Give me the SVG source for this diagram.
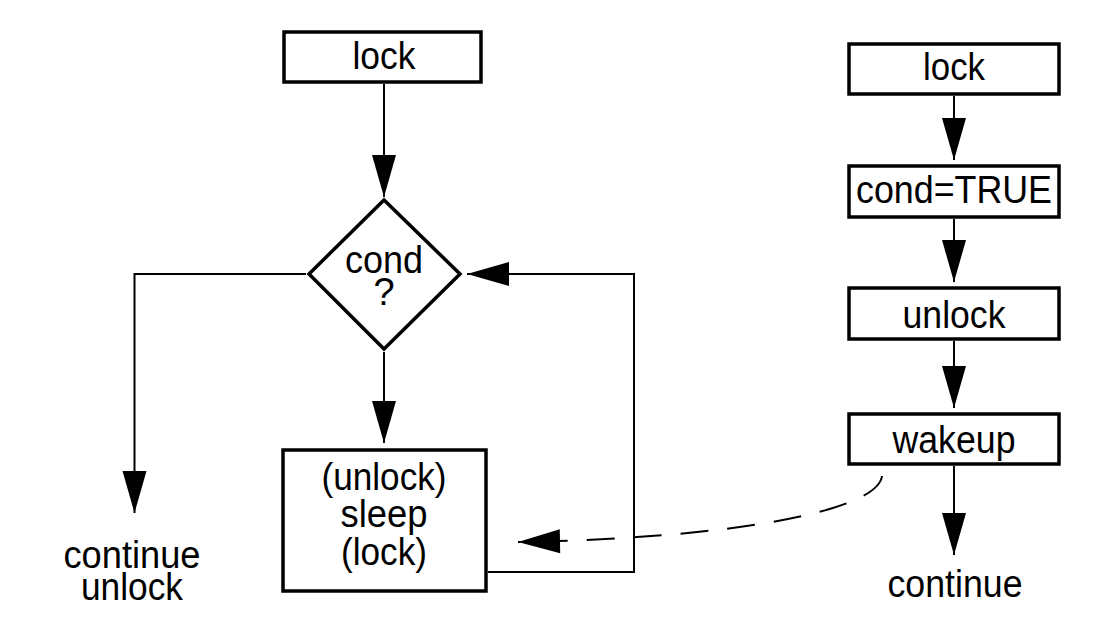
<svg xmlns="http://www.w3.org/2000/svg" width="1116" height="626" viewBox="0 0 1116 626">
<style>
.box{fill:#fff;stroke:#000;stroke-width:3.5}
.t{font-family:"Liberation Sans",Arial,Helvetica,sans-serif;font-size:38px;fill:#000;text-anchor:middle}
.c{fill:none;stroke:#000;stroke-width:2}
.d{fill:none;stroke:#000;stroke-width:2;stroke-dasharray:28 19}
</style>
<defs>
<marker id="ah" markerUnits="userSpaceOnUse" markerWidth="44" markerHeight="26" refX="42" refY="12" orient="auto" overflow="visible">
<path d="M0,0 L42,12 L0,24 z" fill="#000"/>
</marker>
</defs>
<rect width="1116" height="626" fill="#fff"/>
<g id="connectors">
<path class="c" d="M384,84 L384,197" marker-end="url(#ah)"/>
<path class="c" d="M306,274 L134.5,274 L134.5,513" marker-end="url(#ah)"/>
<path class="c" d="M384,352 L384,443" marker-end="url(#ah)"/>
<path class="c" d="M488,572 L634,572 L634,274 L467,274" marker-end="url(#ah)"/>
<path class="c" d="M954,96 L954,160" marker-end="url(#ah)"/>
<path class="c" d="M954,219 L954,282" marker-end="url(#ah)"/>
<path class="c" d="M954,341 L954,408" marker-end="url(#ah)"/>
<path class="c" d="M954,466 L954,555" marker-end="url(#ah)"/>
<path class="d" d="M882,476 C878,510 740,538 518,542" marker-end="url(#ah)"/>
</g>
<g id="lock-left">
<rect class="box" x="284" y="32" width="197" height="50"/>
<text class="t" x="384" y="69" textLength="63" lengthAdjust="spacingAndGlyphs">lock</text>
</g>
<g id="cond-decision">
<polygon class="box" points="309,274 384,200 460,274 384,349"/>
<text class="t" x="384" y="273" textLength="78" lengthAdjust="spacingAndGlyphs">cond</text>
<text class="t" x="384" y="305">?</text>
</g>
<g id="sleep">
<rect class="box" x="283" y="450" width="203" height="141"/>
<text class="t" x="384" y="490" textLength="125" lengthAdjust="spacingAndGlyphs">(unlock)</text>
<text class="t" x="384" y="527" textLength="87" lengthAdjust="spacingAndGlyphs">sleep</text>
<text class="t" x="384" y="565" textLength="86" lengthAdjust="spacingAndGlyphs">(lock)</text>
</g>
<g id="continue-unlock">
<text class="t" x="132" y="568" textLength="137" lengthAdjust="spacingAndGlyphs">continue</text>
<text class="t" x="132" y="600" textLength="102" lengthAdjust="spacingAndGlyphs">unlock</text>
</g>
<g id="lock-right">
<rect class="box" x="849" y="44" width="210" height="50"/>
<text class="t" x="954" y="80" textLength="62" lengthAdjust="spacingAndGlyphs">lock</text>
</g>
<g id="cond-true">
<rect class="box" x="849" y="166" width="210" height="51"/>
<text class="t" x="954" y="203" textLength="196" lengthAdjust="spacingAndGlyphs">cond=TRUE</text>
</g>
<g id="unlock">
<rect class="box" x="849" y="288" width="210" height="51"/>
<text class="t" x="954" y="328" textLength="103" lengthAdjust="spacingAndGlyphs">unlock</text>
</g>
<g id="wakeup">
<rect class="box" x="849" y="414" width="210" height="50"/>
<text class="t" x="954" y="453" textLength="123" lengthAdjust="spacingAndGlyphs">wakeup</text>
</g>
<g id="continue-right">
<text class="t" x="955" y="597" textLength="135" lengthAdjust="spacingAndGlyphs">continue</text>
</g>
</svg>
